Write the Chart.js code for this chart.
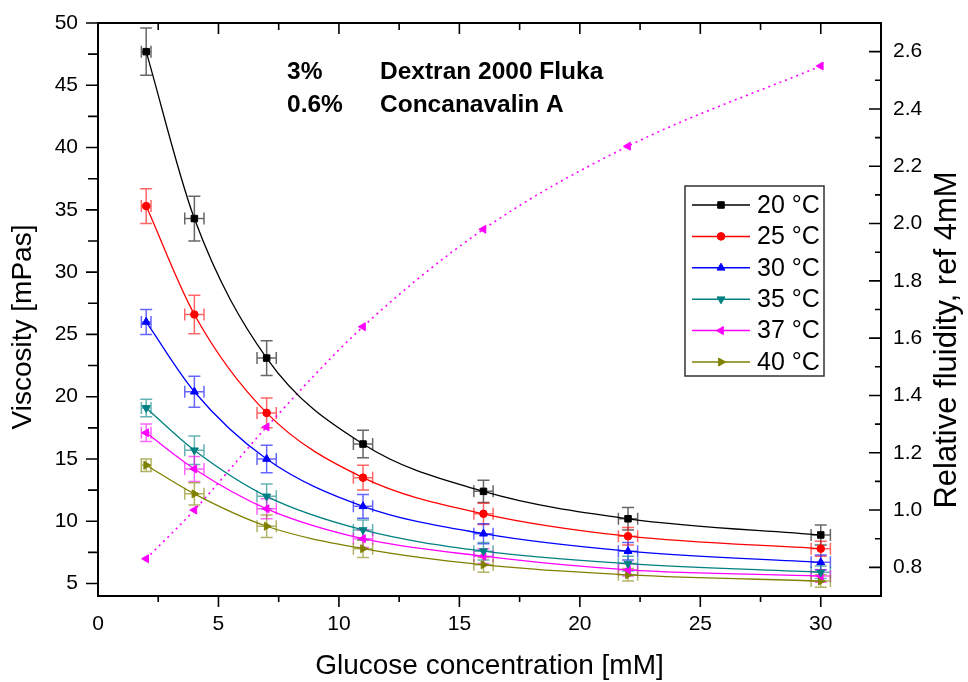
<!DOCTYPE html>
<html>
<head>
<meta charset="utf-8">
<title>Viscosity vs glucose</title>
<script src="https://cdn.jsdelivr.net/npm/chart.js@4.4.0/dist/chart.umd.min.js"></script>
<style>
  html, body { margin: 0; padding: 0; background: #fff; }
  #wrap { width: 968px; height: 682px; }
</style>
</head>
<body>
<div id="wrap"><canvas id="viscosityChart" width="968" height="682"></canvas></div>
<script>
// ---- data ----
const glucose = [2, 4, 7, 11, 16, 22, 30];
const glucoseErr = [0.2, 0.4, 0.4, 0.4, 0.4, 0.4, 0.4];

const seriesLabels = ['20 °C', '25 °C', '30 °C', '35 °C', '37 °C', '40 °C'];

const visc20 = [47.7, 34.3, 23.1, 16.2, 12.4, 10.2, 8.9];
const visc25 = [35.3, 26.6, 18.7, 13.5, 10.6, 8.8, 7.8];
const visc30 = [26.0, 20.4, 15.0, 11.2, 9.0, 7.6, 6.7];
const visc35 = [19.1, 15.7, 12.0, 9.3, 7.6, 6.6, 5.9];
const visc37 = [17.1, 14.2, 11.0, 8.6, 7.2, 6.1, 5.6];
const visc40 = [14.5, 12.2, 9.6, 7.8, 6.5, 5.7, 5.2];

const err20 = [1.9, 1.8, 1.4, 1.1, 0.9, 0.9, 0.8];
const err25 = [1.4, 1.55, 1.2, 1.0, 0.85, 0.7, 0.6];
const err30 = [1.0, 1.25, 1.1, 0.95, 0.8, 0.7, 0.6];
const err35 = [0.7, 1.15, 1.0, 0.8, 0.7, 0.6, 0.5];
const err37 = [0.7, 1.0, 0.8, 0.7, 0.6, 0.5, 0.5];
const err40 = [0.5, 0.9, 0.9, 0.7, 0.6, 0.5, 0.5];

// relative fluidity (ref 4 mM), right axis
const fluidity = [0.83, 1.0, 1.29, 1.64, 1.98, 2.27, 2.55];

const xTicks = [0, 5, 10, 15, 20, 25, 30];
const yTicks = [5, 10, 15, 20, 25, 30, 35, 40, 45, 50];
const y2Ticks = [0.8, 1.0, 1.2, 1.4, 1.6, 1.8, 2.0, 2.2, 2.4, 2.6];

const noteLines = [['3%', 'Dextran 2000 Fluka'], ['0.6%', 'Concanavalin A']];

// ---- styles ----
const FONT = "'Liberation Sans', Arial, Helvetica, sans-serif";
Chart.defaults.font.family = FONT;
Chart.defaults.color = '#000';

const viscSeries = [visc20, visc25, visc30, visc35, visc37, visc40];
const errSeries = [err20, err25, err30, err35, err37, err40];
const colors = ['#000000', '#ff0000', '#0000ff', '#008080', '#ff00ff', '#808000'];
const errColors = ['rgba(0,0,0,0.6)', 'rgba(255,0,0,0.6)', 'rgba(0,0,255,0.6)',
                   'rgba(0,128,128,0.6)', 'rgba(255,0,255,0.6)', 'rgba(128,128,0,0.6)'];
const markers = [
  { style: 'rect', rot: 0, r: 4.6 },
  { style: 'circle', rot: 0, r: 3.8 },
  { style: 'triangle', rot: 0, r: 4.6 },
  { style: 'triangle', rot: 180, r: 4.6 },
  { style: 'triangle', rot: 270, r: 4.6 },
  { style: 'triangle', rot: 90, r: 4.6 }
];

const toPoints = vals => vals.map((v, i) => ({ x: glucose[i], y: v }));

const datasets = viscSeries.map((vals, i) => ({
  label: seriesLabels[i],
  data: toPoints(vals),
  yErr: errSeries[i],
  errColor: errColors[i],
  yAxisID: 'y',
  borderColor: colors[i],
  backgroundColor: colors[i],
  borderWidth: 1.3,
  cubicInterpolationMode: 'monotone',
  pointStyle: markers[i].style,
  rotation: markers[i].rot,
  pointRadius: markers[i].r,
  pointBorderWidth: 1,
  inLegend: true
}));

datasets.push({
  label: 'Relative fluidity',
  data: toPoints(fluidity),
  yAxisID: 'y2',
  borderColor: '#ff00ff',
  backgroundColor: '#ff00ff',
  borderWidth: 1.6,
  borderDash: [2, 4],
  cubicInterpolationMode: 'monotone',
  pointStyle: 'triangle',
  rotation: 270,
  pointRadius: 4.6,
  pointBorderWidth: 1
});

// ---- plugins ----
const errorBarPlugin = {
  id: 'errorBars',
  beforeDatasetsDraw(chart) {
    const { ctx, scales: { x, y } } = chart;
    const cap = 6;
    chart.data.datasets.forEach(ds => {
      if (!ds.yErr) return;
      ctx.save();
      ctx.strokeStyle = ds.errColor;
      ctx.lineWidth = 1.5;
      ctx.beginPath();
      ds.data.forEach((pt, j) => {
        const px = x.getPixelForValue(pt.x);
        const py = y.getPixelForValue(pt.y);
        const yTop = y.getPixelForValue(pt.y + ds.yErr[j]);
        const yBot = y.getPixelForValue(pt.y - ds.yErr[j]);
        const xL = x.getPixelForValue(pt.x - glucoseErr[j]);
        const xR = x.getPixelForValue(pt.x + glucoseErr[j]);
        ctx.moveTo(px, yTop); ctx.lineTo(px, yBot);
        ctx.moveTo(px - cap, yTop); ctx.lineTo(px + cap, yTop);
        ctx.moveTo(px - cap, yBot); ctx.lineTo(px + cap, yBot);
        ctx.moveTo(xL, py); ctx.lineTo(xR, py);
        ctx.moveTo(xL, py - cap); ctx.lineTo(xL, py + cap);
        ctx.moveTo(xR, py - cap); ctx.lineTo(xR, py + cap);
      });
      ctx.stroke();
      ctx.restore();
    });
  }
};

const framePlugin = {
  id: 'frame',
  afterDraw(chart) {
    const { ctx, chartArea: a, scales: { x, y, y2 } } = chart;
    ctx.save();
    ctx.strokeStyle = '#000';
    ctx.lineWidth = 2;
    ctx.strokeRect(a.left, a.top, a.right - a.left, a.bottom - a.top);
    ctx.lineWidth = 1.6;
    ctx.beginPath();
    // bottom (outward) and top (inward) ticks
    for (let k = 1; k < 13; k++) {
      const v = k * 2.5;
      const px = x.getPixelForValue(v);
      const major = k % 2 === 0;
      ctx.moveTo(px, a.bottom); ctx.lineTo(px, a.bottom + (major ? 11 : 6));
      ctx.moveTo(px, a.top); ctx.lineTo(px, a.top + (major ? 11 : 7));
    }
    // left ticks (outward)
    for (let k = 2; k <= 20; k++) {
      const py = y.getPixelForValue(k * 2.5);
      ctx.moveTo(a.left, py); ctx.lineTo(a.left - (k % 2 === 0 ? 12 : 10), py);
    }
    // right ticks (inward)
    for (let k = 8; k <= 26; k++) {
      const py = y2.getPixelForValue(k / 10);
      ctx.moveTo(a.right, py); ctx.lineTo(a.right - (k % 2 === 0 ? 12 : 6), py);
    }
    ctx.stroke();
    ctx.restore();
  }
};

const textPlugin = {
  id: 'texts',
  afterDraw(chart) {
    const { ctx, chartArea: a } = chart;
    ctx.save();
    ctx.fillStyle = '#000';
    // axis titles
    ctx.font = '28px ' + FONT;
    ctx.textAlign = 'center';
    ctx.textBaseline = 'middle';
    ctx.fillText('Glucose concentration [mM]', (a.left + a.right) / 2, 666);
    ctx.save();
    ctx.translate(23, 327);
    ctx.rotate(-Math.PI / 2);
    ctx.fillText('Viscosity [mPas]', 0, 0);
    ctx.restore();
    ctx.save();
    ctx.font = '31px ' + FONT;
    ctx.translate(947, 340);
    ctx.rotate(-Math.PI / 2);
    ctx.fillText('Relative fluidity, ref 4mM', 0, 0);
    ctx.restore();
    // note
    ctx.font = 'bold 24.5px ' + FONT;
    ctx.textAlign = 'left';
    ctx.textBaseline = 'alphabetic';
    noteLines.forEach((ln, i) => {
      const by = 79 + i * 33;
      ctx.fillText(ln[0], 287, by);
      ctx.fillText(ln[1], 380, by);
    });
    ctx.restore();
  }
};

const legendPlugin = {
  id: 'boxLegend',
  afterDraw(chart) {
    const { ctx } = chart;
    const bx = 685, by = 186, bw = 139, bh = 190;
    ctx.save();
    ctx.fillStyle = '#fff';
    ctx.fillRect(bx, by, bw, bh);
    ctx.strokeStyle = '#333';
    ctx.lineWidth = 1.5;
    ctx.strokeRect(bx, by, bw, bh);
    ctx.font = '25px ' + FONT;
    ctx.textBaseline = 'middle';
    chart.data.datasets.filter(d => d.inLegend).forEach((ds, i) => {
      const ry = 205 + i * 31.4;
      ctx.strokeStyle = ds.borderColor;
      ctx.lineWidth = 1.5;
      ctx.beginPath();
      ctx.moveTo(692, ry); ctx.lineTo(750, ry);
      ctx.stroke();
      ctx.fillStyle = ds.backgroundColor;
      ctx.lineWidth = 1;
      Chart.helpers.drawPoint(ctx, {
        pointStyle: ds.pointStyle, rotation: ds.rotation,
        radius: ds.pointRadius, borderWidth: 1
      }, 721, ry);
      ctx.fillStyle = '#000';
      ctx.fillText(ds.label, 757, ry + 1);
    });
    ctx.restore();
  }
};

// ---- chart ----
const tickFont = { size: 21 };
const noEdgePad = s => { s.paddingTop = 0; s.paddingBottom = 0; s.paddingLeft = 0; s.paddingRight = 0; };
new Chart(document.getElementById('viscosityChart').getContext('2d'), {
  type: 'line',
  data: { datasets },
  plugins: [errorBarPlugin, framePlugin, textPlugin, legendPlugin],
  options: {
    responsive: false,
    animation: false,
    layout: { padding: { top: 23, left: 0, right: 0, bottom: 0 } },
    plugins: { legend: { display: false }, tooltip: { enabled: false } },
    scales: {
      x: {
        type: 'linear', min: 0, max: 32.5,
        grid: { display: false, drawTicks: false },
        border: { display: false },
        ticks: { font: tickFont, padding: 16 },
        afterBuildTicks: s => { s.ticks = xTicks.map(v => ({ value: v })); },
        afterFit: s => { s.height = 86; noEdgePad(s); }
      },
      y: {
        type: 'linear', position: 'left', min: 4, max: 50,
        grid: { display: false, drawTicks: false },
        border: { display: false },
        ticks: { font: tickFont, padding: 20 },
        afterBuildTicks: s => { s.ticks = yTicks.map(v => ({ value: v })); },
        afterFit: s => { s.width = 98; noEdgePad(s); }
      },
      y2: {
        type: 'linear', position: 'right', min: 0.7, max: 2.7,
        grid: { display: false, drawTicks: false },
        border: { display: false },
        ticks: { font: tickFont, padding: 12, callback: v => v.toFixed(1) },
        afterBuildTicks: s => { s.ticks = y2Ticks.map(v => ({ value: v })); },
        afterFit: s => { s.width = 87; noEdgePad(s); }
      }
    }
  }
});
</script>
</body>
</html>
